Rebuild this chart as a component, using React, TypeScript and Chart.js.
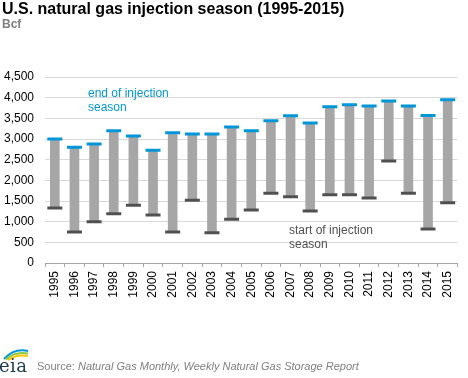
import React, { useEffect, useRef } from "react";
import { Chart, registerables } from "chart.js";

Chart.register(...registerables);

const years = ["1995","1996","1997","1998","1999","2000","2001","2002","2003","2004","2005","2006","2007","2008","2009","2010","2011","2012","2013","2014","2015"];
const startOfSeason = [1330, 750, 1000, 1190, 1400, 1160, 750, 1520, 730, 1060, 1280, 1690, 1600, 1260, 1650, 1650, 1570, 2470, 1690, 820, 1460];
const endOfSeason = [3000, 2800, 2880, 3200, 3070, 2730, 3150, 3120, 3120, 3290, 3200, 3440, 3560, 3390, 3780, 3830, 3800, 3920, 3800, 3570, 3950];
const yTicks = [0, 500, 1000, 1500, 2000, 2500, 3000, 3500, 4000, 4500];

const FONT = "'Liberation Sans', Arial, Helvetica, sans-serif";

const labelsPlugin = {
  id: "seasonLabels",
  afterDatasetsDraw(chart: any) {
    const ctx = chart.ctx;
    ctx.save();
    ctx.font = `12px ${FONT}`;
    ctx.textBaseline = "middle";
    ctx.textAlign = "left";
    ctx.fillStyle = "#0096d7";
    ctx.fillText("end of injection", 88, 94);
    ctx.fillText("season", 88, 108);
    ctx.fillStyle = "#505050";
    ctx.fillText("start of injection", 289, 231);
    ctx.fillText("season", 289, 245);
    ctx.restore();
  },
};

export default function App() {
  const ref = useRef<HTMLCanvasElement>(null);
  useEffect(() => {
    if (!ref.current) return;
    const chart = new Chart(ref.current, {
      type: "bar",
      data: {
        labels: years,
        datasets: [
          {
            type: "line",
            label: "end",
            data: endOfSeason,
            showLine: false,
            pointStyle: "line",
            pointRadius: 7.5,
            pointHoverRadius: 7.5,
            pointBorderWidth: 3,
            borderColor: "#0096d7",
            backgroundColor: "#0096d7",
            order: 0,
          } as any,
          {
            type: "line",
            label: "start",
            data: startOfSeason,
            showLine: false,
            pointStyle: "line",
            pointRadius: 7.5,
            pointHoverRadius: 7.5,
            pointBorderWidth: 3,
            borderColor: "#505050",
            backgroundColor: "#505050",
            order: 0,
          } as any,
          {
            type: "bar",
            label: "range",
            data: years.map((_, i) => [startOfSeason[i], endOfSeason[i]]),
            backgroundColor: "#a6a6a6",
            barThickness: 9,
            borderWidth: 0,
            order: 1,
          } as any,
        ],
      },
      options: {
        animation: false,
        responsive: false,
        maintainAspectRatio: false,
        layout: { padding: { top: 77, left: 0, right: 0, bottom: 60 } },
        plugins: { legend: { display: false }, tooltip: { enabled: false }, title: { display: false } },
        scales: {
          x: {
            offset: true,
            grid: { display: true, offset: true, drawOnChartArea: false, drawTicks: true, tickLength: 4, color: "#a6a6a6" },
            border: { display: true, color: "#a6a6a6" },
            ticks: { maxRotation: 90, minRotation: 90, color: "#000", font: { family: FONT, size: 12 }, padding: 4, autoSkip: false },
            afterFit: (s: any) => { s.height = 55; },
          },
          y: {
            min: 0,
            max: 4500,
            afterBuildTicks: (s: any) => { s.ticks = yTicks.map((v) => ({ value: v })); },
            grid: { color: "#d9d9d9", drawTicks: false },
            border: { display: false },
            ticks: {
              color: "#000",
              font: { family: FONT, size: 12 },
              padding: 11,
              callback: (v: any) => Number(v).toLocaleString("en-US"),
            },
            afterFit: (s: any) => { s.width = 45; },
          },
        },
      },
      plugins: [labelsPlugin],
    });
    return () => chart.destroy();
  }, []);

  return (
    <div style={{ position: "fixed", left: 0, top: 0, width: 468, height: 378, background: "#fff", fontFamily: FONT, overflow: "hidden" }}>
      <canvas ref={ref} width={468} height={378} style={{ position: "absolute", left: 0, top: 0, width: 468, height: 378 }} />
      <div style={{ position: "absolute", left: 2, top: 0, fontSize: 16, fontWeight: "bold", color: "#000", whiteSpace: "nowrap", lineHeight: "18px" }}>
        U.S. natural gas injection season (1995-2015)
      </div>
      <div style={{ position: "absolute", left: 2, top: 17, fontSize: 12, fontWeight: "bold", color: "#7f7f7f", lineHeight: "14px" }}>Bcf</div>
      <svg style={{ position: "absolute", left: 0, top: 344 }} width={32} height={34} viewBox="0 0 32 34">
        <path d="M4 15 Q14 4 28 7" stroke="#0096d7" strokeWidth={2} fill="none" />
        <path d="M6 15.5 Q15 7 28 9.5" stroke="#8dc63f" strokeWidth={2} fill="none" />
        <path d="M8 16 Q17 10 28 12" stroke="#f7c600" strokeWidth={2} fill="none" />
        <text x={-1} y={28} fontFamily="'DejaVu Serif', serif" fontSize={18} fill="#1d3b50" textLength={28}>eia</text>
      </svg>
      <div style={{ position: "absolute", left: 37, top: 359, fontSize: 11, color: "#808080", whiteSpace: "nowrap", lineHeight: "14px" }}>
        Source: <i>Natural Gas Monthly, Weekly Natural Gas Storage Report</i>
      </div>
    </div>
  );
}
